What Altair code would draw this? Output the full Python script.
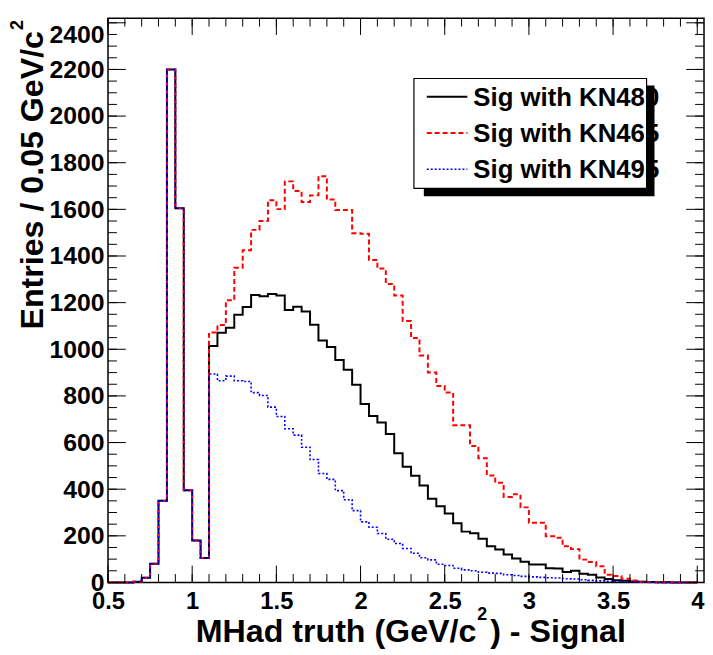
import altair as alt
import numpy as np
import pandas as pd

# ---------------- data ----------------
bin_lo = 0.5
bin_w = 0.05
n_bins = 70
# bins 0.50 ... 1.05 (identical for the three samples)
common_low = [0, 0, 0, 3, 20, 80, 350, 2200, 1605, 395, 180, 105]
# bins 1.10 ... 3.95
kn480 = [1014, 1071, 1092, 1148, 1181, 1233, 1227, 1237, 1231, 1168,
         1182, 1162, 1105, 1038, 1010, 954, 912, 848, 765, 714,
         686, 637, 554, 496, 458, 416, 359, 327, 296, 254,
         218, 211, 187, 155, 141, 120, 103, 89, 77, 77,
         61, 60, 45, 50, 37, 33, 21, 15, 10, 7,
         4, 3, 2, 1, 1, 0, 0, 0]
kn465 = [1072, 1104, 1210, 1350, 1425, 1512, 1550, 1639, 1601, 1720,
         1679, 1632, 1660, 1742, 1642, 1597, 1597, 1498, 1495, 1383,
         1346, 1280, 1231, 1121, 1048, 973, 900, 843, 815, 674,
         674, 585, 533, 459, 428, 367, 378, 322, 256, 256,
         198, 192, 155, 143, 98, 88, 70, 33, 28, 16,
         8, 3, 1, 1, 0, 0, 0, 0]
kn495 = [894, 865, 885, 865, 862, 814, 802, 752, 712, 659,
         632, 580, 527, 467, 442, 394, 355, 308, 260, 237,
         210, 185, 167, 146, 125, 106, 97, 78, 73, 61,
         54, 50, 44, 40, 39, 33, 30, 26, 24, 22,
         20, 19, 16, 15, 12, 9, 7, 5, 4, 3,
         2, 1, 1, 0, 0, 0, 0, 0]
series_names = ["Sig with KN480", "Sig with KN465", "Sig with KN495"]
series_vals = [common_low + kn480, common_low + kn465, common_low + kn495]
series_colors = ["#000000", "#ff0000", "#0000ff"]

x_major = [0.5, 1.0, 1.5, 2.0, 2.5, 3.0, 3.5, 4.0]
x_minor = [round(0.5 + 0.1 * i, 2) for i in range(36)]
y_major = list(range(0, 2401, 200))
y_minor = list(range(0, 2401, 50))

x_title_parts = ["MHad truth (GeV/c", "2", ") - Signal"]
y_title_parts = ["Entries / 0.05 GeV/c", "2"]

# ---------------- build tables ----------------
edges = np.round(bin_lo + bin_w * np.arange(n_bins + 1), 3)
rows = []
for name, vals in zip(series_names, series_vals):
    for i in range(n_bins):
        rows.append({"series": name, "x": float(edges[i]), "y": vals[i]})
    rows.append({"series": name, "x": float(edges[n_bins]), "y": vals[-1]})
df = pd.DataFrame(rows)

W, H = 602, 570
FONT = "Liberation Sans"
xs = alt.Scale(domain=[0.5, 4.04], nice=False, zero=False)
ys = alt.Scale(domain=[0, 2420], nice=False, zero=True)

x_axis = alt.Axis(values=x_major, format="~g", ticks=False, domain=False, grid=False,
                  labelFont=FONT, labelFontSize=24, labelFontWeight="bold",
                  labelColor="black", labelPadding=7, labelFlush=False,
                  title=None, orient="bottom")
y_axis = alt.Axis(values=y_major, format="d", ticks=False, domain=False, grid=False,
                  labelFont=FONT, labelFontSize=25, labelFontWeight="bold",
                  labelColor="black", labelPadding=4, labelFlush=False,
                  labelBaseline={"condition": {"test": "datum.value == 2400", "value": "top"},
                                 "value": "middle"},
                  title=None, orient="left")

dashes = [[1, 0], [5, 3], [2, 2]]
widths = [2, 2, 1.6]

layers = []
for k, name in enumerate(series_names):
    layers.append(
        alt.Chart(df).transform_filter(alt.datum.series == name)
        .mark_line(interpolate="step-after", color=series_colors[k],
                   strokeWidth=widths[k], strokeDash=dashes[k])
        .encode(x=alt.X("x:Q", scale=xs, axis=x_axis),
                y=alt.Y("y:Q", scale=ys, axis=y_axis))
    )

# tick marks pointing inside the frame on all four sides
def xticks(vals, length):
    d = pd.DataFrame({"x": vals})
    out = []
    for y0, y1 in [(H, H - length), (0, length)]:
        out.append(alt.Chart(d).mark_rule(color="black", strokeWidth=1)
                   .encode(x=alt.X("x:Q", scale=xs, axis=x_axis),
                           y=alt.value(y0), y2=alt.value(y1)))
    return out

def yticks(vals, length):
    d = pd.DataFrame({"y": vals})
    out = []
    for x0, x1 in [(0, length), (W, W - length)]:
        out.append(alt.Chart(d).mark_rule(color="black", strokeWidth=1)
                   .encode(y=alt.Y("y:Q", scale=ys, axis=y_axis),
                           x=alt.value(x0), x2=alt.value(x1)))
    return out

ticks = xticks(x_minor, 8.5) + xticks(x_major, 17) + yticks(y_minor, 9) + yticks(y_major, 18)

# legend box with shadow
one = pd.DataFrame({"a": [0]})
shadow = alt.Chart(one).mark_rect(color="black").encode(
    x=alt.value(319), x2=alt.value(552), y=alt.value(68), y2=alt.value(180))
box = alt.Chart(one).mark_rect(fill="white", stroke="black", strokeWidth=1.2).encode(
    x=alt.value(309), x2=alt.value(544), y=alt.value(61), y2=alt.value(172))
leg_df = pd.DataFrame({"name": series_names})
leg = [shadow, box]
for k, name in enumerate(series_names):
    ly = 79.3 + 36.7 * k
    leg.append(alt.Chart(one).mark_rule(color=series_colors[k], strokeWidth=widths[k],
                                        strokeDash=dashes[k])
               .encode(x=alt.value(322), x2=alt.value(363), y=alt.value(ly)))
    leg.append(alt.Chart(leg_df).transform_filter(alt.datum.name == name)
               .mark_text(align="left", baseline="alphabetic", font=FONT, fontSize=26,
                          fontWeight="bold", color="black")
               .encode(text="name:N", x=alt.value(369), y=alt.value(ly + 9)))

# axis titles (with raised superscript 2)
def txt(s, **kw):
    return alt.Chart(pd.DataFrame({"t": [s]})).mark_text(
        font=FONT, fontWeight="bold", color="black", **{k: v for k, v in kw.items() if k not in ("x", "y")}
    ).encode(text="t:N", x=alt.value(kw["x"]), y=alt.value(kw["y"]))

titles = [
    txt(x_title_parts[0], x=372, y=630, align="right", baseline="alphabetic", fontSize=32.5),
    txt(x_title_parts[1], x=373, y=608, align="left", baseline="alphabetic", fontSize=18),
    txt(x_title_parts[2], x=386, y=630, align="left", baseline="alphabetic", fontSize=32.5),
    txt(y_title_parts[0], x=-66, y=13, align="right", baseline="alphabetic", fontSize=32.5, angle=270),
    txt(y_title_parts[1], x=-86, y=12, align="left", baseline="alphabetic", fontSize=18, angle=270),
]

chart = alt.layer(*layers, *ticks, *leg, *titles).properties(
    width=W, height=H,
    autosize=alt.AutoSizeParams(type="none"),
    padding={"left": 101, "top": 7, "right": 1, "bottom": 68},
    background="white",
).configure_view(stroke="black", strokeWidth=1.5)

chart.save("out.html", embed_options={"renderer": "svg", "actions": False})
